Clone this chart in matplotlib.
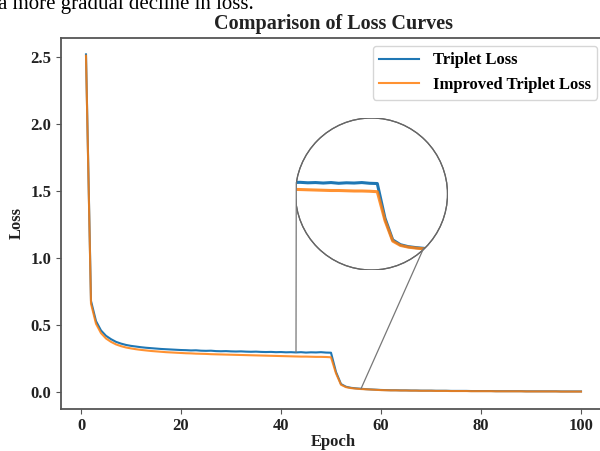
import numpy as np
import matplotlib
matplotlib.use("Agg")
import matplotlib.pyplot as plt
from matplotlib.patches import Circle, ConnectionPatch

# epochs 1..100
epochs = np.arange(1, 101)

triplet = [2.52, 0.68, 0.53, 0.46, 0.42, 0.395, 0.375, 0.362, 0.352, 0.345,
           0.340, 0.335, 0.331, 0.328, 0.325, 0.322, 0.320, 0.318, 0.316, 0.314,
           0.313, 0.311, 0.312, 0.309, 0.308, 0.309, 0.306, 0.305, 0.306, 0.304,
           0.303, 0.304, 0.302, 0.301, 0.302, 0.300, 0.299, 0.300, 0.298, 0.299,
           0.297, 0.298, 0.296, 0.298, 0.295, 0.297, 0.296, 0.298, 0.295, 0.294,
           0.15, 0.06, 0.040, 0.032, 0.028, 0.025, 0.022, 0.020, 0.018, 0.016,
           0.015, 0.014, 0.014, 0.013, 0.013, 0.012, 0.012, 0.011, 0.011, 0.011,
           0.010, 0.010, 0.010, 0.009, 0.009, 0.009, 0.009, 0.008, 0.008, 0.008,
           0.008, 0.008, 0.007, 0.007, 0.007, 0.007, 0.007, 0.007, 0.006, 0.006,
           0.006, 0.006, 0.006, 0.006, 0.006, 0.005, 0.005, 0.005, 0.005, 0.005]

improved = [2.51, 0.66, 0.51, 0.44, 0.40, 0.375, 0.356, 0.343, 0.333, 0.326,
            0.320, 0.315, 0.311, 0.307, 0.304, 0.301, 0.298, 0.296, 0.294, 0.292,
            0.290, 0.289, 0.287, 0.286, 0.285, 0.283, 0.282, 0.281, 0.280, 0.279,
            0.278, 0.277, 0.276, 0.275, 0.274, 0.273, 0.272, 0.271, 0.270, 0.269,
            0.268, 0.267, 0.266, 0.265, 0.265, 0.264, 0.263, 0.263, 0.262, 0.260,
            0.14, 0.055, 0.037, 0.030, 0.026, 0.023, 0.021, 0.019, 0.017, 0.015,
            0.014, 0.013, 0.013, 0.012, 0.012, 0.011, 0.011, 0.010, 0.010, 0.010,
            0.009, 0.009, 0.009, 0.008, 0.008, 0.008, 0.008, 0.007, 0.007, 0.007,
            0.007, 0.007, 0.006, 0.006, 0.006, 0.006, 0.006, 0.006, 0.005, 0.005,
            0.005, 0.005, 0.005, 0.005, 0.005, 0.004, 0.004, 0.004, 0.004, 0.004]

labels = ["Triplet Loss", "Improved Triplet Loss"]
colors = ["#1f77b4", "#ff7f0e"]

serif = "Liberation Serif"
W, H = 600, 451

fig = plt.figure(figsize=(6, 4.51), dpi=100)
# axes placed in pixels (picture is a crop, right spine falls just outside)
ax = fig.add_axes([61.25 / W, 1 - 409 / H, 544.5 / W, 371.5 / H])

ax.plot(epochs, triplet, color=colors[0], lw=1.5, label=labels[0])
ax.plot(epochs, improved, color=colors[1], lw=1.5, alpha=0.85, label=labels[1])
ax.set_xlim(-3.95, 104.95)
ax.set_ylim(-0.126, 2.646)
ax.set_xticks([0, 20, 40, 60, 80, 100])
ax.set_yticks([0.0, 0.5, 1.0, 1.5, 2.0, 2.5])

for s in ax.spines.values():
    s.set_color("#555555")
    s.set_linewidth(1.3)
ax.tick_params(colors="#555555", labelcolor="#222222")
ax.tick_params(axis="x", pad=3)
for t in ax.get_xticklabels() + ax.get_yticklabels():
    t.set_fontfamily(serif)
    t.set_fontweight("bold")
    t.set_fontsize(12)

ax.set_title("Comparison of Loss Curves", fontfamily=serif, fontweight="bold",
             fontsize=14.5, color="#222222")
ax.set_xlabel("Epoch", fontfamily=serif, fontweight="bold", fontsize=12,
              color="#222222", labelpad=0)
ax.set_ylabel("Loss", fontfamily=serif, fontweight="bold", fontsize=12, color="#222222")

leg = ax.legend(loc="upper right", prop={"family": serif, "weight": "bold", "size": 12},
                handlelength=2.4, borderaxespad=0.5)

# circular zoom
ins = fig.add_axes([295.5 / W, 1 - 270 / H, 152 / W, 152 / H])
ins.set_xlim(39.4, 59.1)
ins.set_ylim(-0.065, 0.566)
ins.axis("off")
circ = Circle((0.5, 0.5), 0.5, transform=ins.transAxes, facecolor="white",
              edgecolor="#666666", lw=0.9, zorder=0)
ins.add_patch(circ)
l1, = ins.plot(epochs, triplet, color=colors[0], lw=2.2)
l2, = ins.plot(epochs, improved, color=colors[1], lw=2.2, alpha=0.85)
l1.set_clip_path(circ)
l2.set_clip_path(circ)
edge = Circle((0.5, 0.5), 0.5, transform=ins.transAxes, facecolor="none",
              edgecolor="#666666", lw=0.9, zorder=5)
ins.add_patch(edge)

# connector lines from circle to curve
for xa, xb in [(39.5, 43), (56, 56)]:
    ya = np.interp(xa, epochs, triplet)
    yb = np.interp(xb, epochs, triplet)
    con = ConnectionPatch(xyA=(xa, ya), coordsA=ins.transData,
                          xyB=(xb, yb), coordsB=ax.transData,
                          color="#777777", lw=0.9)
    fig.add_artist(con)

fig.text(-0.003, 1 - 9 / H, "a more gradual decline in loss.", fontfamily=serif,
         fontsize=15, va="baseline", ha="left", color="black")

fig.savefig("out.png", dpi=100)
